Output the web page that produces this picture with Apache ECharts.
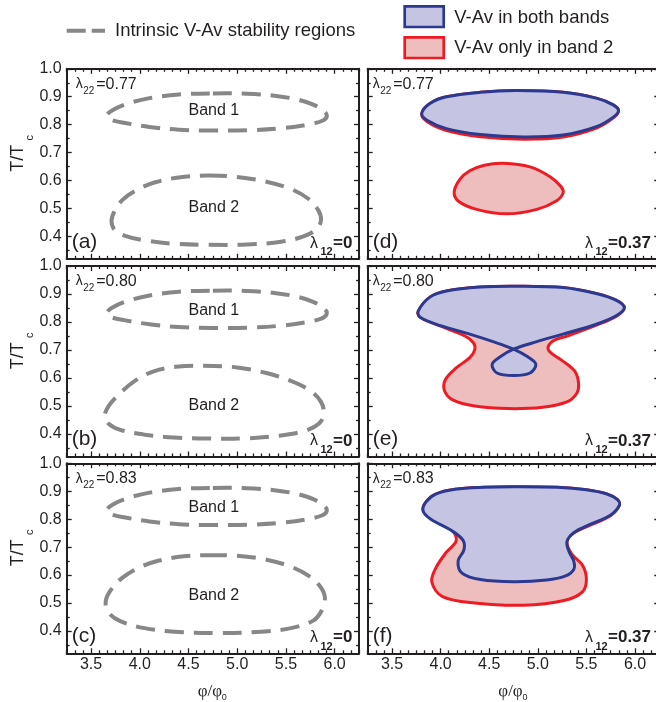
<!DOCTYPE html>
<html><head><meta charset="utf-8">
<script src="https://cdn.jsdelivr.net/npm/echarts@6/dist/echarts.min.js"></script>
<style>html,body{margin:0;padding:0;background:#fff}#c{width:656px;height:702px}</style>
</head><body><div id="c"></div>
<script>
// ---------- data ----------
const xTickLabels = [3.5, 4.0, 4.5, 5.0, 5.5, 6.0];
const yTickLabels = [0.4, 0.5, 0.6, 0.7, 0.8, 0.9, 1.0];
const lambda22 = ['0.77', '0.80', '0.83'];
const lambda12 = ['0', '0.37'];
const panelTags = ['(a)', '(b)', '(c)', '(d)', '(e)', '(f)'];
const bandLabelText = ['Band 1', 'Band 2'];
const bandLabelPos = [
  [[4.76, 0.850], [4.76, 0.503]],
  [[4.76, 0.840], [4.76, 0.500]],
  [[4.76, 0.840], [4.76, 0.525]]
];

// intrinsic band 1 region (same in a, b, c)
const band1 = [[4.75,0.912],[5.10,0.911],[5.40,0.903],[5.62,0.890],[5.78,0.872],[5.88,0.852],[5.92,0.833],[5.88,0.815],[5.72,0.800],[5.45,0.787],[5.10,0.780],[4.75,0.779],[4.40,0.782],[4.10,0.792],[3.85,0.806],[3.70,0.818],[3.66,0.832],[3.72,0.852],[3.88,0.876],[4.10,0.895],[4.40,0.908]];
// intrinsic band 2 regions
const band2A = [[4.70,0.618],[5.00,0.613],[5.30,0.596],[5.55,0.570],[5.73,0.535],[5.83,0.495],[5.86,0.460],[5.82,0.428],[5.68,0.400],[5.45,0.381],[5.10,0.371],[4.70,0.370],[4.35,0.374],[4.05,0.386],[3.85,0.402],[3.74,0.425],[3.71,0.455],[3.74,0.490],[3.82,0.530],[3.95,0.563],[4.15,0.593],[4.40,0.611]];
const band2B = [[4.65,0.644],[5.00,0.638],[5.30,0.618],[5.55,0.590],[5.75,0.555],[5.86,0.515],[5.89,0.472],[5.84,0.438],[5.70,0.412],[5.45,0.395],[5.10,0.385],[4.70,0.384],[4.35,0.388],[4.05,0.398],[3.80,0.415],[3.68,0.437],[3.64,0.465],[3.68,0.500],[3.78,0.540],[3.95,0.590],[4.15,0.625],[4.40,0.641]];
const band2C = [[4.70,0.671],[5.00,0.669],[5.30,0.655],[5.55,0.630],[5.73,0.598],[5.85,0.560],[5.90,0.520],[5.87,0.475],[5.78,0.437],[5.55,0.410],[5.20,0.396],[4.80,0.393],[4.40,0.396],[4.05,0.410],[3.80,0.435],[3.68,0.465],[3.65,0.505],[3.70,0.545],[3.82,0.590],[4.00,0.628],[4.20,0.652],[4.45,0.667]];

// lambda12 = 0.37 : V-Av in both bands (blue) and only in band 2 (red)
const bothD = [[4.78,0.922],[5.26,0.916],[5.61,0.894],[5.78,0.870],[5.83,0.850],[5.78,0.828],[5.61,0.794],[5.26,0.763],[4.85,0.756],[4.41,0.765],[4.06,0.786],[3.86,0.816],[3.806,0.840],[3.89,0.876],[4.06,0.900],[4.41,0.916]];
const only2DUpper = [[4.78,0.922],[5.26,0.916],[5.61,0.894],[5.78,0.870],[5.83,0.850],[5.78,0.825],[5.61,0.789],[5.26,0.756],[4.85,0.748],[4.41,0.757],[4.06,0.779],[3.86,0.811],[3.806,0.840],[3.89,0.876],[4.06,0.900],[4.41,0.916]];
const only2DLower = [[4.645,0.662],[4.92,0.649],[5.13,0.613],[5.24,0.578],[5.26,0.555],[5.19,0.527],[4.99,0.497],[4.68,0.481],[4.37,0.497],[4.18,0.527],[4.14,0.560],[4.20,0.605],[4.30,0.635],[4.45,0.655]];
const bothE = [[4.78,0.928],[5.26,0.923],[5.61,0.901],[5.81,0.877],[5.89,0.851],[5.81,0.823],[5.61,0.793],[5.26,0.757],[4.99,0.730],[4.75,0.703],[4.61,0.675],[4.53,0.649],[4.58,0.618],[4.75,0.609],[4.92,0.618],[4.98,0.649],[4.90,0.675],[4.75,0.703],[4.54,0.730],[4.30,0.757],[4.00,0.787],[3.79,0.817],[3.77,0.839],[3.89,0.889],[4.06,0.911],[4.41,0.925]];
const only2E = [[4.78,0.928],[5.26,0.923],[5.61,0.901],[5.81,0.877],[5.89,0.851],[5.81,0.821],[5.61,0.790],[5.30,0.750],[5.17,0.735],[5.11,0.715],[5.12,0.695],[5.24,0.665],[5.38,0.625],[5.42,0.580],[5.40,0.545],[5.30,0.515],[5.05,0.496],[4.70,0.491],[4.35,0.500],[4.13,0.521],[4.04,0.555],[4.05,0.595],[4.16,0.636],[4.30,0.673],[4.35,0.700],[4.34,0.725],[4.25,0.750],[4.00,0.785],[3.79,0.817],[3.77,0.839],[3.89,0.889],[4.06,0.911],[4.41,0.925]];
const bothF = [[4.75,0.916],[5.20,0.914],[5.50,0.905],[5.71,0.890],[5.82,0.870],[5.84,0.850],[5.75,0.815],[5.55,0.783],[5.37,0.752],[5.30,0.720],[5.32,0.685],[5.37,0.650],[5.37,0.620],[5.28,0.596],[5.09,0.582],[4.75,0.576],[4.41,0.584],[4.22,0.607],[4.18,0.650],[4.24,0.690],[4.23,0.725],[4.10,0.762],[3.90,0.800],[3.82,0.830],[3.85,0.862],[3.95,0.890],[4.15,0.907],[4.45,0.914]];
const only2F = [[4.75,0.916],[5.20,0.914],[5.50,0.905],[5.71,0.890],[5.82,0.870],[5.84,0.850],[5.75,0.813],[5.55,0.780],[5.37,0.750],[5.30,0.718],[5.35,0.675],[5.46,0.635],[5.50,0.585],[5.46,0.540],[5.28,0.510],[4.85,0.492],[4.35,0.500],[4.02,0.523],[3.91,0.575],[3.95,0.625],[4.06,0.682],[4.16,0.722],[4.12,0.760],[3.92,0.797],[3.82,0.830],[3.85,0.862],[3.95,0.890],[4.15,0.907],[4.45,0.914]];

// ---------- layout / style ----------
const X_MIN = 3.25, X_MAX = 6.25, Y_MIN = 0.32, Y_MAX = 1.0;
const colLeft = [66.7, 367.7], colWidth = [292.3, 291.6];
const rowTop = [68.8, 266, 463.3], rowHeight = [190, 190.5, 190];
const INK = '#231f20';
const FONT = '"Liberation Sans", Arial, sans-serif';
const GRAY = '#878787';
const BLUE = '#2b3990', BLUE_FILL = '#c5c5e3';
const RED = '#ed1c24', RED_FILL = '#eebdbe';

const xMajorTicks = [], xMinorTicks = [];
for (let k = 39; k <= 75; k++) { const v = k / 12; (k % 6 === 0 ? xMajorTicks : xMinorTicks).push(+v.toFixed(5)); }
const yMajorTicks = [], yMinorTicks = [];
for (let k = 7; k <= 20; k++) { const v = k * 0.05; (k % 2 === 0 ? yMajorTicks : yMinorTicks).push(+v.toFixed(3)); }

const panels = [
  {col:0,row:0},{col:0,row:1},{col:0,row:2},
  {col:1,row:0},{col:1,row:1},{col:1,row:2}
];
const grids = [], xAxes = [], yAxes = [], series = [], graphics = [];

function mkAxis(kind, gi, pos, ticks, len, line, labels) {
  return {
    type: 'value', gridIndex: gi, position: pos,
    min: kind === 'x' ? X_MIN : Y_MIN, max: kind === 'x' ? X_MAX : Y_MAX,
    axisLine: { show: line, onZero: false, lineStyle: { color: INK, width: 2 } },
    axisTick: { show: true, inside: true, length: len, customValues: ticks, lineStyle: { color: INK, width: 1.3 } },
    axisLabel: labels ? { show: true, customValues: labels, margin: kind === 'x' ? 3 : 5, color: INK, fontSize: 16, fontFamily: FONT, formatter: v => (+v).toFixed(1) } : { show: false },
    splitLine: { show: false }, minorTick: { show: false }, minorSplitLine: { show: false }
  };
}

panels.forEach((p, i) => {
  const L = colLeft[p.col], W = colWidth[p.col], T = rowTop[p.row], H = rowHeight[p.row];
  p.box = { L, W, T, H };
  grids.push({ left: L, top: T, width: W, height: H, containLabel: false, outerBoundsMode: 'none' });
  p.xi = xAxes.length;
  xAxes.push(mkAxis('x', i, 'bottom', xMajorTicks, 5, true, p.row === 2 ? xTickLabels : null));
  xAxes.push(mkAxis('x', i, 'bottom', xMinorTicks, 3, false, null));
  xAxes.push(mkAxis('x', i, 'top', xMajorTicks, 5, true, null));
  xAxes.push(mkAxis('x', i, 'top', xMinorTicks, 3, false, null));
  p.yi = yAxes.length;
  yAxes.push(mkAxis('y', i, 'left', yMajorTicks, 5, true, p.col === 0 ? yTickLabels : null));
  yAxes.push(mkAxis('y', i, 'left', yMinorTicks, 3, false, null));
  yAxes.push(mkAxis('y', i, 'right', yMajorTicks, 5, true, null));
  yAxes.push(mkAxis('y', i, 'right', yMinorTicks, 3, false, null));
});

function shape(pi, pts, style) {
  series.push({
    type: 'custom', xAxisIndex: panels[pi].xi, yAxisIndex: panels[pi].yi,
    data: pts, silent: true, animation: false, clip: false,
    renderItem: (params, api) => {
      if (params.dataIndex !== 0) return null;
      const points = pts.map(q => api.coord(q));
      return { type: 'polygon', shape: { points, smooth: 0.35 }, style: Object.assign({}, style) };
    }
  });
}
const dashStyle = { fill: 'none', stroke: GRAY, lineWidth: 4, lineDash: [19, 10] };
const blueStyle = { fill: BLUE_FILL, stroke: BLUE, lineWidth: 3, lineJoin: 'round' };
const redStyle = { fill: RED_FILL, stroke: RED, lineWidth: 3, lineJoin: 'round' };

[band2A, band2B, band2C].forEach((b2, i) => {
  shape(i, band1, dashStyle);
  shape(i, b2, dashStyle);
  series.push({
    type: 'custom', xAxisIndex: panels[i].xi, yAxisIndex: panels[i].yi,
    data: bandLabelPos[i], silent: true, animation: false,
    renderItem: (params, api) => {
      const c = api.coord([api.value(0), api.value(1)]);
      return { type: 'text', x: c[0], y: c[1], style: { text: bandLabelText[params.dataIndex], fill: INK, font: '16px ' + FONT, align: 'center', verticalAlign: 'middle', textAlign: 'center', textVerticalAlign: 'middle' } };
    }
  });
});
shape(3, only2DUpper, redStyle);
shape(3, only2DLower, redStyle);
shape(3, bothD, blueStyle);
shape(4, only2E, redStyle);
shape(4, bothE, blueStyle);
shape(5, only2F, redStyle);
shape(5, bothF, blueStyle);

// ---------- texts ----------
function txt(x, y, text, font, align, extra) {
  graphics.push(Object.assign({ type: 'text', x, y, silent: true, style: { text, font, fill: INK, align: align || 'left', verticalAlign: 'middle', textAlign: align || 'left', textVerticalAlign: 'middle' } }, extra || {}));
}
panels.forEach((p, i) => {
  const { L, W, T, H } = p.box;
  const d = p.col === 0 ? 0 : -4;
  txt(L + 9 + d, T + 15.5, 'λ', '14px ' + FONT);
  txt(L + 16.5 + d, T + 22, '22', '10px ' + FONT);
  txt(L + 29.5 + d, T + 15.5, '=' + lambda22[p.row], '16px ' + FONT);
  txt(L + 5, T + H - 17, panelTags[i], '21px ' + FONT);
  const v12 = lambda12[p.col];
  const bx = p.col === 0 ? L + 243.3 : L + 217.3;
  txt(bx, T + H - 15.5, 'λ', '16px ' + FONT);
  txt(bx + 10.5, T + H - 6.5, '12', 'bold 11px ' + FONT);
  txt(bx + 23, T + H - 15.5, '=' + v12, 'bold 17px ' + FONT);
});
// y axis titles
[0, 1, 2].forEach(r => {
  const cy = rowTop[r] + rowHeight[r] / 2;
  txt(18.3, cy - 5.5, 'T/T', '18px ' + FONT, 'center', { rotation: Math.PI / 2 });
  txt(30, cy - 26, 'c', '11px ' + FONT, 'center', { rotation: Math.PI / 2 });
});
// x axis titles
[0, 1].forEach(c => {
  const cx = colLeft[c] + colWidth[c] / 2 - 3;
  txt(cx, 691.5, 'φ/φ', '17px "Liberation Serif", serif', 'center');
  txt(cx + 14.5, 697.5, '0', '9px ' + FONT, 'center');
});
// legends
graphics.push({ type: 'line', silent: true, shape: { x1: 66.7, y1: 30.8, x2: 105, y2: 30.8 }, style: { stroke: GRAY, lineWidth: 4, lineDash: [19, 6] } });
txt(115, 30.5, 'Intrinsic V-Av stability regions', '18.5px ' + FONT);
graphics.push({ type: 'rect', silent: true, shape: { x: 404.7, y: 6.4, width: 39, height: 20.6 }, style: { fill: BLUE_FILL, stroke: BLUE, lineWidth: 2.7 } });
graphics.push({ type: 'rect', silent: true, shape: { x: 404.7, y: 37.4, width: 39, height: 20.6 }, style: { fill: RED_FILL, stroke: RED, lineWidth: 2.7 } });
txt(454.3, 17.5, 'V-Av in both bands', '18.5px ' + FONT);
txt(454.3, 47.5, 'V-Av only in band 2', '18.5px ' + FONT);

const chart = echarts.init(document.getElementById('c'), null, { renderer: 'canvas' });
chart.setOption({
  animation: false,
  backgroundColor: '#fff',
  grid: grids, xAxis: xAxes, yAxis: yAxes, series,
  graphic: { elements: graphics }
});
</script></body></html>
